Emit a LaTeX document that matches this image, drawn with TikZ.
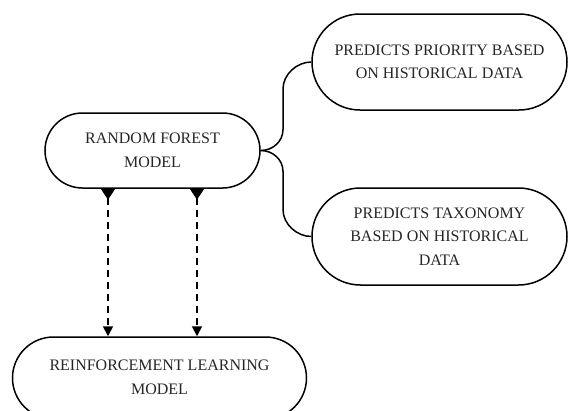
\documentclass[tikz,border=0pt]{standalone}
\usepackage{fontspec}
\setmainfont{Liberation Serif}
\usetikzlibrary{shapes.misc,arrows.meta,calc}

\tikzset{
  pill/.style={rounded rectangle, draw=black, line width=1.5pt, fill=white,
    align=center, inner sep=0pt, text=black!85,
    font=\fontsize{16}{23.5}\selectfont},
  branch/.style={draw=black, line width=1.5pt},
  feed/.style={draw=black, line width=1.8pt, dash pattern=on 7pt off 5pt,
    {Triangle[reversed,width=14pt,length=11pt]}-{Triangle[width=10pt,length=10pt]}}
}

\begin{document}
\begin{tikzpicture}[x=1pt,y=-1pt]
  \useasboundingbox (0,0) rectangle (568,410);

  % model boxes
  \node[pill, minimum width=215pt, minimum height=75pt] (rf) at (152.5,150.5)
    {RANDOM FOREST\\MODEL};
  \node[pill, minimum width=255pt, minimum height=96pt] (prio) at (439.5,62)
    {PREDICTS PRIORITY BASED\\ON HISTORICAL DATA};
  \node[pill, minimum width=255pt, minimum height=97pt] (tax) at (439.5,236.5)
    {PREDICTS TAXONOMY\\BASED ON HISTORICAL\\DATA};
  \node[pill, minimum width=294pt, minimum height=82pt] (rl) at (159.5,378)
    {\raisebox{3pt}{\begin{tabular}{@{}c@{}}REINFORCEMENT LEARNING\\MODEL\end{tabular}}};

  % vertical bus of the branching connector
  \coordinate (bus) at (283,0);
  \draw[branch] (rf.east)
    .. controls ([xshift=12pt]rf.east) and ([yshift=9pt]bus |- rf.east)
    .. ([yshift=21pt]bus |- rf.east)
    -- ([yshift=-27pt]bus |- prio.west)
    .. controls ([yshift=-12pt]bus |- prio.west) and ([xshift=-14pt]prio.west)
    .. (prio.west);
  \draw[branch] (rf.east)
    .. controls ([xshift=12pt]rf.east) and ([yshift=-9pt]bus |- rf.east)
    .. ([yshift=-21pt]bus |- rf.east)
    -- ([yshift=27pt]bus |- tax.west)
    .. controls ([yshift=12pt]bus |- tax.west) and ([xshift=-14pt]tax.west)
    .. (tax.west);

  % dashed feeds into the reinforcement learning model
  \coordinate (fa) at (108,0);
  \coordinate (fb) at (197,0);
  \draw[feed] (fa |- rf.south) -- (fa |- rl.north);
  \draw[feed] (fb |- rf.south) -- (fb |- rl.north);
\end{tikzpicture}
\end{document}
